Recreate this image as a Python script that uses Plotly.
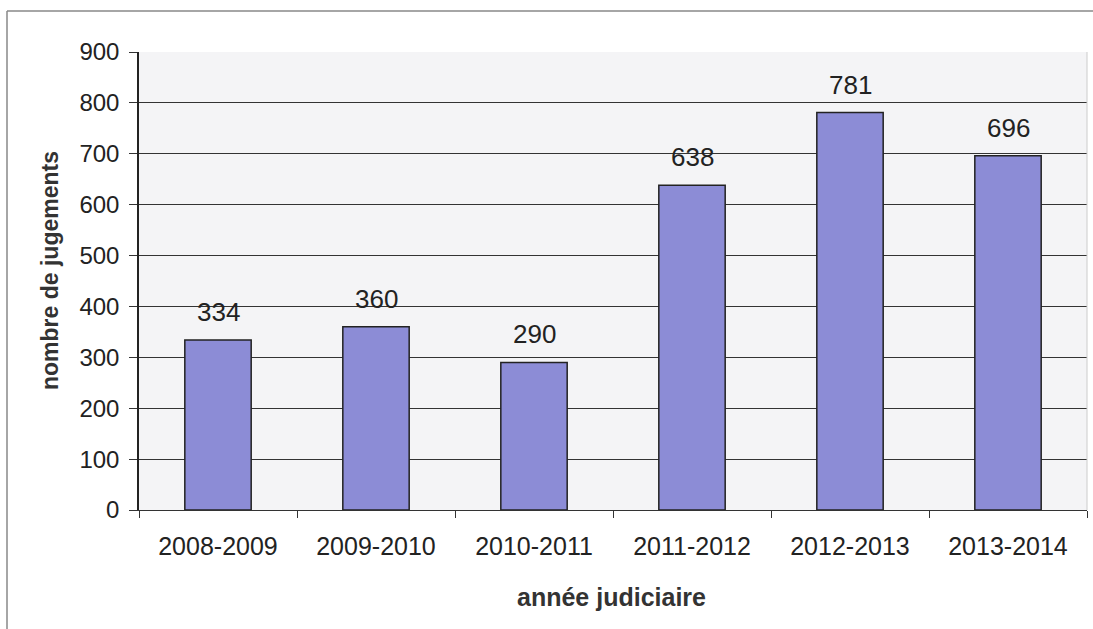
import plotly.graph_objects as go

categories = ["2008-2009", "2009-2010", "2010-2011", "2011-2012", "2012-2013", "2013-2014"]
values = [334, 360, 290, 638, 781, 696]
y_ticks = [0, 100, 200, 300, 400, 500, 600, 700, 800, 900]

fig = go.Figure()
fig.add_trace(go.Bar(
    x=categories, y=values,
    marker=dict(color="#8c8cd6", line=dict(color="#222222", width=1.5)),
    width=0.42,
    hoverinfo="x+y",
))

for c, v in zip(categories, values):
    fig.add_annotation(x=c, y=v, text=str(v), showarrow=False, yshift=28,
                       font=dict(family="Liberation Sans, Arial", size=26, color="#222222"))

# axis titles as annotations (positioned like the reference)
fig.add_annotation(xref="paper", yref="paper", x=(50 - 139) / 948, y=(510 - 271) / 458,
                   text="<b>nombre de jugements</b>", textangle=-90, showarrow=False,
                   xanchor="center", yanchor="middle",
                   font=dict(family="Liberation Sans, Arial", size=23, color="#333333"))
fig.add_annotation(xref="paper", yref="paper", x=(611 - 139) / 948, y=-(597 - 510) / 458,
                   text="<b>année judiciaire</b>", showarrow=False,
                   xanchor="center", yanchor="middle",
                   font=dict(family="Liberation Sans, Arial", size=25, color="#333333"))

fig.update_layout(
    width=1093, height=629,
    margin=dict(l=139, r=6, t=52, b=119),
    paper_bgcolor="white",
    plot_bgcolor="#f4f4f6",
    showlegend=False,
    font=dict(family="Liberation Sans, Arial", color="#222222"),
    xaxis=dict(
        type="category",
        tickfont=dict(size=25, color="#222222"),
        ticks="outside", ticklen=7, tickcolor="#333333",
        tickson="boundaries",
        ticklabelstandoff=14,
        showline=True, linecolor="#333333", linewidth=1,
        showgrid=False,
    ),
    yaxis=dict(
        range=[0, 900], tickvals=y_ticks,
        tickfont=dict(size=24, color="#222222"),
        ticks="outside", ticklen=8, tickcolor="#333333",
        ticklabelstandoff=5,
        showline=True, linecolor="#222222", linewidth=1.5,
        showgrid=True, gridcolor="#333333", gridwidth=1,
        zeroline=False,
    ),
)

# outer chart border (left and top visible)
fig.add_shape(type="line", xref="paper", yref="paper",
              x0=-(139 - 7) / 948, x1=(1093 - 139) / 948,
              y0=1 + (52 - 11) / 458, y1=1 + (52 - 11) / 458,
              line=dict(color="#888888", width=1.5))
fig.add_shape(type="line", xref="paper", yref="paper",
              x0=-(139 - 7) / 948, x1=-(139 - 7) / 948,
              y0=1 + (52 - 11) / 458, y1=-(629 - 510) / 458,
              line=dict(color="#888888", width=1.5))
# right border of plot area
fig.add_shape(type="line", xref="paper", yref="paper", x0=1, x1=1, y0=0, y1=1,
              line=dict(color="#cccccc", width=1))

fig.write_html("out.html")
